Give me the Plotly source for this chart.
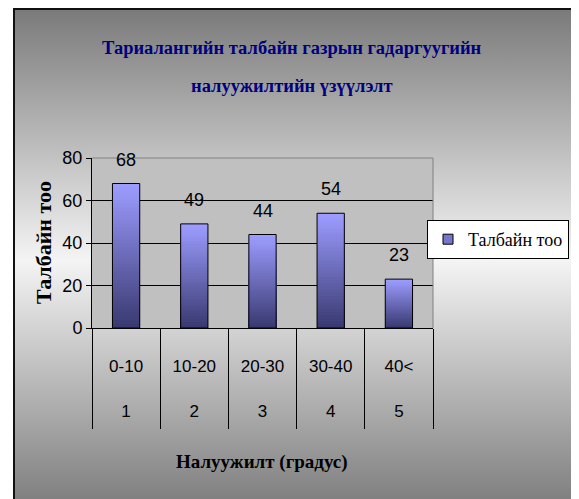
import base64
import plotly.graph_objects as go

# ---- data ----
ranges = ["0-10", "10-20", "20-30", "30-40", "40<"]
groups = ["1", "2", "3", "4", "5"]
counts = [68, 49, 44, 54, 23]
y_ticks = [0, 20, 40, 60, 80]

title_line1 = "Тариалангийн талбайн газрын гадаргуугийн"
title_line2 = "налуужилтийн үзүүлэлт"
y_title = "Талбайн тоо"
x_title = "Налуужилт (градус)"
series_name = "Талбайн тоо"

OFF = 8                     # page body margin
W, H = 579 - OFF, 499 - OFF
# plot area in reference-picture pixels
RL, RR, RT, RB = 92, 433, 158, 328
L, R, T, B = RL - OFF, RR - OFF, RT - OFF, RB - OFF


def px(xp):  # reference pixel x -> paper
    return (xp - RL) / (RR - RL)


def py(yp):  # reference pixel y -> paper
    return (RB - yp) / (RB - RT)


NARROW = "Liberation Sans Narrow, Arial Narrow, Liberation Sans, Arial, sans-serif"
SERIF = "Liberation Serif"

fig = go.Figure()

# gradient bars built from overlaid bars of decreasing height
N = 36
top = (0x9c, 0x9c, 0xff)
bot = (0x3a, 0x3a, 0x72)
for k in range(N):
    t = k / (N - 1)
    c = tuple(round(top[i] + (bot[i] - top[i]) * t) for i in range(3))
    frac = (N - k) / N
    fig.add_trace(go.Bar(
        x=ranges, y=[v * frac for v in counts], width=0.4,
        marker=dict(color="rgb(%d,%d,%d)" % c, line=dict(width=0)),
        showlegend=False, hoverinfo="skip"))

fig.add_trace(go.Bar(
    x=ranges, y=counts, width=0.4, name=series_name,
    marker=dict(color="rgba(0,0,0,0)", line=dict(color="black", width=1)),
    showlegend=False))

fig.add_trace(go.Scatter(
    x=[None], y=[None], mode="markers", name=series_name,
    marker=dict(symbol="square", size=10, color="#7676cc",
                line=dict(color="black", width=1))))

# background gradient image
svg = ('<svg xmlns="http://www.w3.org/2000/svg" width="10" height="100" '
       'viewBox="0 0 10 100" preserveAspectRatio="none">'
       '<defs><linearGradient id="g" x1="0" y1="0" x2="0" y2="1">'
       '<stop offset="0" stop-color="#7a7a7a"/>'
       '<stop offset="0.5" stop-color="#f4f4f4"/>'
       '<stop offset="1" stop-color="#7a7a7a"/>'
       '</linearGradient></defs>'
       '<rect width="10" height="100" fill="url(#g)"/></svg>')
src = "data:image/svg+xml;base64," + base64.b64encode(svg.encode()).decode()

frame_l, frame_r, frame_top, frame_bot = 14, 572, 9, 512
fig.add_layout_image(dict(
    source=src, xref="paper", yref="paper",
    x=px(frame_l), y=py(frame_top), sizex=px(frame_r) - px(frame_l),
    sizey=py(frame_top) - py(frame_bot),
    xanchor="left", yanchor="top", sizing="stretch", layer="below"))

shapes = [
    dict(type="rect", xref="paper", yref="paper", x0=px(frame_l), x1=px(frame_r),
         y0=py(frame_bot), y1=py(frame_top), line=dict(color="#111111", width=2),
         fillcolor="rgba(0,0,0,0)", layer="below"),
    dict(type="rect", xref="paper", yref="paper", x0=0, x1=1, y0=0, y1=1,
         line=dict(width=0), fillcolor="#c0c0c0", layer="below"),
    dict(type="line", xref="paper", yref="paper", x0=0, x1=1, y0=1, y1=1,
         line=dict(color="#808080", width=1), layer="above"),
    dict(type="line", xref="paper", yref="paper", x0=1, x1=1, y0=0, y1=1,
         line=dict(color="#808080", width=1), layer="above"),
]


def ann(text, x, y, size, color, bold=True, angle=0):
    return dict(text=text, x=px(x), y=py(y), xref="paper", yref="paper",
                xanchor="center", yanchor="middle", textangle=angle,
                showarrow=False,
                font=dict(family=SERIF, size=size, color=color,
                          weight="bold" if bold else "normal"))


annotations = [
    ann(title_line1, 292, 48, 18.5, "#000080"),
    ann(title_line2, 292, 86, 18.5, "#000080"),
    ann(y_title, 43, 242, 22, "black", angle=-90),
    ann(x_title, 262, 462, 19, "black"),
]
for cat, v in zip(ranges, counts):
    annotations.append(dict(text=str(v), x=cat, y=v, xref="x", yref="y",
                            showarrow=False, yanchor="bottom", yshift=12,
                            font=dict(family=NARROW, size=18, color="black")))

ticktext = [r.replace("<", "&lt;") + "<br><br>" + g for r, g in zip(ranges, groups)]

fig.update_layout(
    width=W, height=H,
    margin=dict(l=L, r=W - R, t=T, b=H - B, pad=0, autoexpand=False),
    paper_bgcolor="white", plot_bgcolor="rgba(0,0,0,0)",
    barmode="overlay",
    shapes=shapes, annotations=annotations,
    showlegend=True,
    legend=dict(x=px(427), y=py(220), xanchor="left", yanchor="top",
                bgcolor="white", bordercolor="black", borderwidth=1,
                font=dict(family="Liberation Serif", size=18, color="black"),
                itemwidth=30),
    xaxis=dict(type="category", categoryorder="array", categoryarray=ranges,
               range=[-0.5, 4.5], tickmode="array", tickvals=ranges, ticktext=ticktext,
               tickson="boundaries", ticks="outside", ticklen=100, tickcolor="black",
               tickwidth=1, showline=True, linecolor="black", linewidth=1,
               showgrid=False, ticklabelstandoff=23,
               tickfont=dict(family=NARROW, size=17, color="black"), fixedrange=True),
    yaxis=dict(range=[0, 80], tickvals=y_ticks, ticks="outside", ticklen=5,
               tickcolor="black", showline=True, linecolor="black", linewidth=1,
               showgrid=True, gridcolor="black", gridwidth=1, zeroline=False,
               tickfont=dict(family=NARROW, size=18, color="black"), fixedrange=True),
)

fig.write_html("out.html")
